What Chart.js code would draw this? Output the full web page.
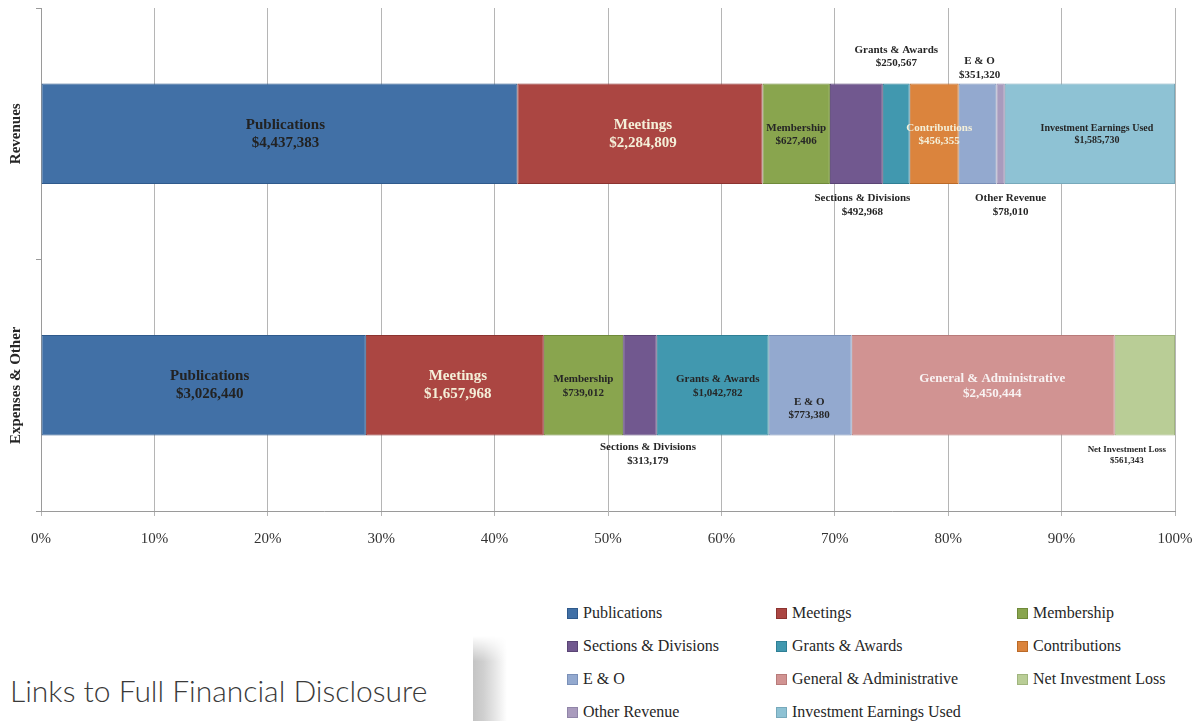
<!DOCTYPE html>
<html>
<head>
<meta charset="utf-8">
<script src="https://cdn.jsdelivr.net/npm/chart.js@4"></script>
<style>
  body{margin:0;background:#fff;width:1204px;height:721px;overflow:hidden;position:relative;font-family:"Liberation Serif",serif;}
  #box{position:absolute;left:0;top:0;width:1204px;height:560px;}
  #legend{position:absolute;left:567px;top:603px;display:grid;grid-template-columns:209px 241px 190px;row-gap:13px;}
  #legend .it{display:flex;align-items:center;height:20px;font-size:16px;color:#262626;white-space:nowrap;}
  #legend .sw{width:9px;height:9px;margin-right:5px;border:1px solid;}
  #links{position:absolute;left:10px;top:672px;font-family:Lato,sans-serif;font-weight:300;font-size:30px;color:#3a3a3a;}
  #shade{position:absolute;left:473px;top:636px;width:34px;height:85px;
    background:linear-gradient(to right,#c4c4c4 0%,#cfcfcf 30%,#e6e6e6 65%,#fff 100%);
    -webkit-mask-image:linear-gradient(to bottom,transparent 0%,#000 30%);mask-image:linear-gradient(to bottom,transparent 0%,#000 30%);}
</style>
</head>
<body>
<div id="box"><canvas id="myChart"></canvas></div>
<div id="legend"></div>
<div id="links">Links to Full Financial Disclosure</div>
<div id="shade"></div>
<script>
// datos del grafico
const categorias = ['Revenues', 'Expenses & Other']
const series = ['Publications', 'Meetings', 'Membership', 'Sections & Divisions', 'Grants & Awards',
  'Contributions', 'E & O', 'General & Administrative', 'Net Investment Loss', 'Other Revenue', 'Investment Earnings Used']
const ingresos = [4437383, 2284809, 627406, 492968, 250567, 456355, 351320, 0, 0, 78010, 1585730]
const gastos = [3026440, 1657968, 739012, 313179, 1042782, 0, 773380, 2450444, 561343, 0, 0]

const colores = ['#4170a6', '#ab4642', '#89a54e', '#71588f', '#4198af', '#db843d', '#93a9cf', '#d19392', '#b9cd96', '#a99bbd', '#8ec2d4']
const bordes = ['#2f5a8c', '#8c3330', '#6f8a3a', '#5a4575', '#2f7f95', '#bb6a28', '#7a90b8', '#b87b7a', '#a0b57e', '#9085a8', '#77a9bb']

// donde va cada etiqueta: [dx, dy, tamaño, color]  (dy respecto al centro de la barra)
const etiquetas = [
  [[6,0,15,'#222'],[3,0,15,'#f4efd8'],[0,1,11,'#262626'],[6,71.5,11,'#262626'],[0,-77,11,'#262626'],
   [5,1,11,'#f4efd8'],[2,-65.5,11,'#262626'],null,null,[10,71.5,11,'#262626'],[7,0.5,10,'#262626']],
  [[6,0,15,'#222'],[3,0,15,'#f4efd8'],[0,1,11,'#262626'],[8,69,11,'#262626'],[5,1,11,'#262626'],
   null,[-1,23.5,11,'#262626'],[9,1,13,'#f8f2f2'],[-18,70,9,'#262626'],null,null]
]

const totales = [ingresos, gastos].map(a => a.reduce((s, v) => s + v, 0))
const filas = [ingresos, gastos]

const datasets = series.map((nombre, i) => ({
  label: nombre,
  data: filas.map((f, j) => f[i] ? f[i] / totales[j] * 100 : null),
  backgroundColor: colores[i],
  borderColor: bordes[i],
  borderWidth: 1,
  borderSkipped: false,
  barPercentage: 0.4,
  categoryPercentage: 1
}))

const dinero = v => '$' + v.toLocaleString('en-US')

const pluginEtiquetas = {
  id: 'etiquetas',
  afterDatasetsDraw(chart) {
    const ctx = chart.ctx
    ctx.save()
    ctx.textAlign = 'center'
    ctx.textBaseline = 'middle'
    chart.data.datasets.forEach((ds, i) => {
      const meta = chart.getDatasetMeta(i)
      meta.data.forEach((bar, j) => {
        const e = etiquetas[j][i]
        if (!e || !filas[j][i]) return
        const [dx, dy, size, color] = e
        const cx = (bar.x + bar.base) / 2 + dx
        const cy = bar.y + dy
        const lh = size * 1.2
        ctx.fillStyle = color
        ctx.font = 'bold ' + size + 'px "Liberation Serif"'
        ctx.fillText(ds.label, cx, cy - lh / 2)
        ctx.fillText(dinero(filas[j][i]), cx, cy + lh / 2)
      })
    })
    // titulos de categoria verticales
    const y = chart.scales.y
    ctx.fillStyle = '#262626'
    ctx.font = 'bold 15px "Liberation Serif"'
    categorias.forEach((c, j) => {
      ctx.save()
      ctx.translate(16, y.getPixelForValue(j))
      ctx.rotate(-Math.PI / 2)
      ctx.fillText(c, 0, 0)
      ctx.restore()
    })
    ctx.restore()
  }
}

const ctx = document.getElementById('myChart')
const grafico = new Chart(ctx, {
  type: 'bar',
  data: { labels: categorias, datasets: datasets },
  options: {
    indexAxis: 'y',
    responsive: true,
    maintainAspectRatio: false,
    animation: false,
    layout: { padding: { top: 8, right: 29, left: 0, bottom: 0 } },
    plugins: { legend: { display: false }, tooltip: { enabled: false } },
    scales: {
      x: {
        stacked: true, min: 0, max: 100,
        ticks: { stepSize: 10, callback: v => v + '%', color: '#333', padding: 14,
          font: { family: 'Liberation Serif', size: 15 }, maxRotation: 0 },
        grid: { color: '#b5b5b5', tickLength: 5 },
        border: { color: '#9a9a9a' },
        afterFit: s => { s.height = 49; s.paddingLeft = 0; s.paddingRight = 0 }
      },
      y: {
        stacked: true,
        ticks: { display: false },
        grid: { drawOnChartArea: false, tickLength: 5, color: '#9a9a9a' },
        border: { color: '#9a9a9a' },
        afterFit: s => { s.width = 41 }
      }
    }
  },
  plugins: [pluginEtiquetas]
})

// leyenda en html, 3 columnas
const leyenda = document.getElementById('legend')
grafico.data.datasets.forEach(ds => {
  const it = document.createElement('div')
  it.className = 'it'
  it.innerHTML = '<span class="sw" style="background:' + ds.backgroundColor + ';border-color:' + ds.borderColor + '"></span>' + ds.label
  leyenda.appendChild(it)
})
</script>
</body>
</html>
